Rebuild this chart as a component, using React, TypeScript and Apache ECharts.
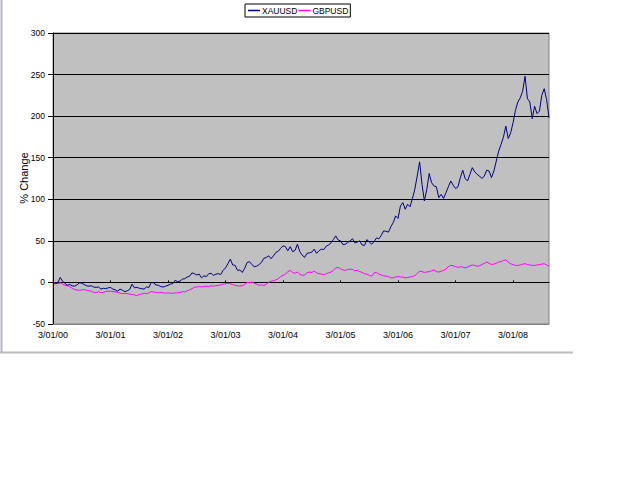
import React, { useEffect, useRef } from "react";
import * as echarts from "echarts";

// X-axis tick labels (year starts)
const xTickLabels = ["3/01/00", "3/01/01", "3/01/02", "3/01/03", "3/01/04", "3/01/05", "3/01/06", "3/01/07", "3/01/08"];
const yearCodes = ["00", "01", "02", "03", "04", "05", "06", "07", "08"];
const yAxisTitle = "% Change";

// XAUUSD % change, semi-monthly (3rd and 18th of each month)
const xau2000 = [0, -1.5, -0.5, 6, 1.5, -1, -3.5, -2.5, -4, -4.5, -3, -0.5, -1, -2.5, -4, -4.5, -4, -5.5, -6, -5.5, -8, -7, -7.5, -6.5];
const xau2001 = [-6, -8, -9, -10.5, -8, -9.5, -11, -10, -8.5, -2, -6.5, -6, -7, -7.5, -8, -5.5, -6, 0, -0.5, -3, -3.5, -5, -5.5, -4.5];
const xau2002 = [-3.5, -2, -1.5, 2.5, 1, 1.5, 4, 4.5, 6.5, 7.5, 11.5, 10.5, 9, 10, 5.5, 8, 7, 10.5, 11, 8.5, 10, 10.5, 9.5, 14.5];
const xau2003 = [17.5, 22.5, 28, 21, 20.5, 14.5, 15, 12, 17, 24, 25, 21.5, 19, 19.5, 21.5, 24, 29, 30, 32, 28.5, 32, 36, 37.5, 41];
const xau2004 = [44, 43, 38, 43, 37, 38.5, 46, 37, 33, 30, 35, 35.5, 36.5, 40, 35, 38, 40, 39.5, 43.5, 45, 47.5, 51.5, 56, 51];
const xau2005 = [50, 45.5, 46, 48, 50, 52.5, 47.5, 48.5, 50, 45, 44.5, 51.5, 48.5, 46, 49, 53.5, 52.5, 56.5, 62, 61.5, 60.5, 67, 72, 80];
const xau2006 = [77, 92, 96, 88, 94, 91, 101, 112, 128, 145, 118, 98, 112, 131, 120, 116, 115, 102, 106, 101, 108, 115, 122, 117];
const xau2007 = [113, 115, 126, 135, 125, 122, 130, 138, 133, 130, 128, 125, 128, 135, 134, 126, 134, 146, 158, 166, 175, 188, 173, 180];
const xau2008 = [192, 207, 217, 222, 230, 248, 221, 217, 197, 212, 203, 206, 225, 233, 220, 198];

// GBPUSD % change, semi-monthly
const gbp2000 = [0, -1, -1.5, -0.5, -2, -3.5, -4, -5, -7, -8.5, -9, -9.5, -9, -8.5, -9.5, -10, -10.5, -12, -12.5, -11, -12.5, -12, -11, -10.5];
const gbp2001 = [-10.5, -11, -11.5, -12, -13, -13.5, -13, -13.5, -14, -14.5, -15, -16, -14.5, -14, -13, -13.5, -12.5, -11, -11.5, -12, -12.5, -12, -12.5, -13];
const gbp2002 = [-12.5, -13, -13, -12.5, -12.5, -12, -11, -11.5, -10, -9, -7.5, -6, -5.5, -5, -5.5, -5, -4.5, -5, -4, -4.5, -4, -3.5, -3, -2];
const gbp2003 = [-1.5, -1, -1.5, -2.5, -3.5, -4, -4.5, -4, -2.5, 0, -0.5, 0.5, -1, -2, -3.5, -3, -3.5, -2.5, 0.5, 1.5, 2, 3, 4.5, 7];
const gbp2004 = [8.5, 10, 13, 14.5, 12, 11, 12.5, 10, 8.5, 9, 11.5, 12.5, 12, 13.5, 11.5, 10.5, 10, 9, 10.5, 11.5, 12.5, 14.5, 17.5, 18];
const gbp2005 = [16.5, 15, 14.5, 15.5, 16, 15.5, 14, 14.5, 13, 12, 10.5, 10, 8.5, 7.5, 11.5, 12, 10, 9, 8, 7.5, 7, 5.5, 5.5, 6.5];
const gbp2006 = [7, 6.5, 6.5, 5.5, 6, 6.5, 7, 8, 11, 13.5, 13, 12, 12.5, 13, 14, 15, 13, 12.5, 13.5, 14.5, 16, 19, 20.5, 20];
const gbp2007 = [19, 18, 19, 18.5, 17.5, 18.5, 20, 21, 20.5, 19.5, 20, 21.5, 23, 24.5, 23, 21.5, 22, 23, 24.5, 25, 26.5, 27, 24.5, 22.5];
const gbp2008 = [21.5, 20.5, 20.5, 21, 22, 22.5, 21.5, 21, 20.5, 20.5, 21, 21.5, 22, 22.5, 21, 19.5];

const xauSeries = [...xau2000, ...xau2001, ...xau2002, ...xau2003, ...xau2004, ...xau2005, ...xau2006, ...xau2007, ...xau2008];
const gbpSeries = [...gbp2000, ...gbp2001, ...gbp2002, ...gbp2003, ...gbp2004, ...gbp2005, ...gbp2006, ...gbp2007, ...gbp2008];

// Categories: dates d/mm/yy on the 3rd and 18th of each month
const categories: string[] = xauSeries.map((_, i) => {
  const y = yearCodes[Math.floor(i / 24)];
  const h = i % 24;
  const m = Math.floor(h / 2) + 1;
  const d = h % 2 === 0 ? 3 : 18;
  return `${d}/${m < 10 ? "0" + m : m}/${y}`;
});

const isYearTick = (_i: number, v: string) => xTickLabels.includes(v);

export default function App() {
  const ref = useRef<HTMLDivElement>(null);
  useEffect(() => {
    if (!ref.current) return;
    const chart = echarts.init(ref.current, undefined, { renderer: "svg" });
    const font = 'Arial, "Liberation Sans", sans-serif';
    chart.setOption({
      animation: false,
      backgroundColor: "#ffffff",
      textStyle: { fontFamily: font },
      legend: {
        data: ["XAUUSD", "GBPUSD"],
        left: 245,
        top: 4,
        padding: [2, 2, 2, 3],
        borderColor: "#000000",
        borderWidth: 1,
        backgroundColor: "#ffffff",
        icon: "rect",
        itemWidth: 12,
        itemHeight: 1.5,
        itemGap: 1,
        textStyle: { fontSize: 8.5, color: "#000000", fontFamily: font, padding: [0, 0, 0, -3] },
      },
      grid: {
        left: 53,
        top: 33,
        width: 496,
        height: 291,
        show: true,
        backgroundColor: "#c0c0c0",
        borderColor: "#808080",
        borderWidth: 1,
      },
      xAxis: [
        {
          type: "category",
          data: categories,
          boundaryGap: false,
          axisLine: { onZero: false, lineStyle: { color: "#808080", width: 1 } },
          axisTick: { show: false },
          axisLabel: { interval: isYearTick, fontSize: 9, color: "#000000", margin: 6, fontFamily: font },
          splitLine: { show: false },
        },
        {
          type: "category",
          data: categories,
          boundaryGap: false,
          position: "bottom",
          axisLine: { show: true, onZero: true, lineStyle: { color: "#000000", width: 1 } },
          axisTick: { show: true, inside: true, length: 2, interval: isYearTick, lineStyle: { color: "#000000" } },
          axisLabel: { show: false },
          splitLine: { show: false },
        },
      ],
      yAxis: {
        type: "value",
        min: -50,
        max: 300,
        interval: 50,
        axisLine: { show: true, lineStyle: { color: "#000000", width: 1 } },
        axisTick: { show: true, length: 5, lineStyle: { color: "#000000" } },
        axisLabel: { fontSize: 8.5, color: "#000000", margin: 8, fontFamily: font },
        splitLine: { show: true, lineStyle: { color: "#000000", width: 1 } },
      },
      series: [
        {
          name: "XAUUSD",
          type: "line",
          xAxisIndex: 0,
          data: xauSeries,
          symbol: "none",
          showSymbol: false,
          lineStyle: { color: "#000080", width: 1 },
          itemStyle: { color: "#000080" },
          z: 3,
        },
        {
          name: "GBPUSD",
          type: "line",
          xAxisIndex: 0,
          data: gbpSeries,
          symbol: "none",
          showSymbol: false,
          lineStyle: { color: "#ff00ff", width: 1 },
          itemStyle: { color: "#ff00ff" },
          z: 2,
        },
      ],
      graphic: [
        { type: "line", shape: { x1: 1.5, y1: 0, x2: 1.5, y2: 352 }, style: { stroke: "#b4b4c8", lineWidth: 2 } },
        { type: "line", shape: { x1: 0, y1: 352.5, x2: 573, y2: 352.5 }, style: { stroke: "#bcbcbc", lineWidth: 2 } },
        {
          type: "text",
          x: 24,
          y: 178,
          rotation: Math.PI / 2,
          style: { text: yAxisTitle, fill: "#000000", font: `11px ${font}`, align: "center", verticalAlign: "middle" },
        },
      ],
    });
    return () => chart.dispose();
  }, []);
  return <div ref={ref} style={{ position: "fixed", left: 0, top: 0, width: 625, height: 500 }} />;
}
